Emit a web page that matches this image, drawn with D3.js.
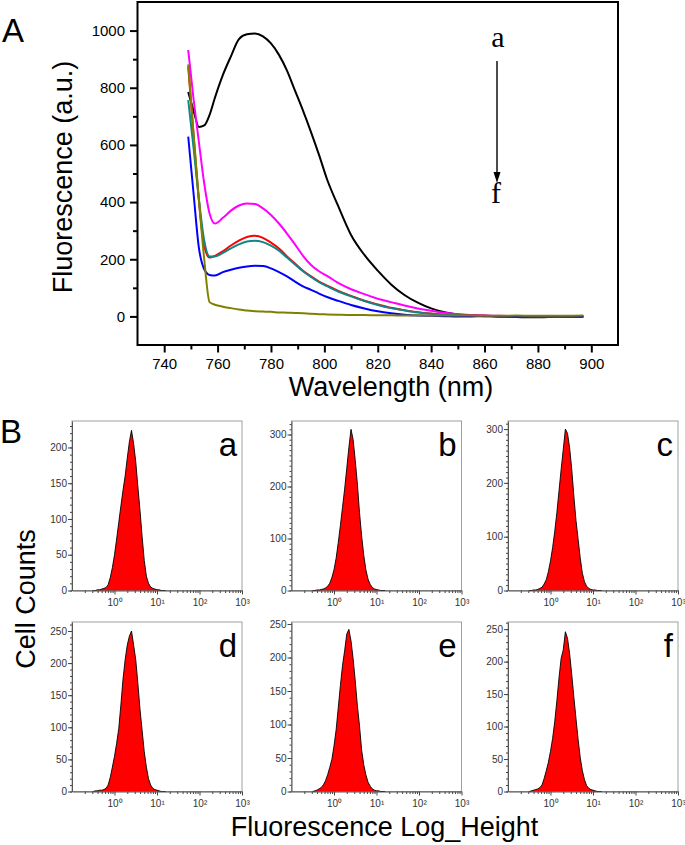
<!DOCTYPE html>
<html>
<head>
<meta charset="utf-8">
<script src="https://cdn.jsdelivr.net/npm/d3@7"></script>
<style>
  body { margin: 0; background: #fff; }
  svg { display: block; font-family: "Liberation Sans", Arial, sans-serif; }
</style>
</head>
<body>
<svg id="fig" width="685" height="845"></svg>
<script>
// ---- data, panel A (emission spectra, a -> f)
const wavelengths = [749, 751, 753, 755, 757, 759, 762, 765, 768, 771, 774, 777, 780, 783, 786, 789, 792, 795, 798, 801,
  805, 810, 815, 820, 825, 830, 835, 840, 845, 850, 855, 860, 866, 872, 878, 884, 890, 897];
const spectrumA = [785, 720, 663, 668, 705, 765, 845, 910, 970, 987, 990, 980, 955, 915, 860, 790, 720, 645, 565, 480,
  390, 285, 215, 160, 112, 75, 48, 28, 15, 7, 4, 2, 0, -2, -3, -2, 0, -2];
const spectrumB = [932, 760, 610, 465, 360, 325, 345, 370, 388, 395, 393, 378, 355, 325, 290, 252, 212, 180, 158, 142,
  118, 95, 78, 62, 50, 38, 28, 20, 13, 8, 5, 3, 2, 0, 0, 1, 0, 0];
const spectrumC = [875, 635, 405, 245, 206, 212, 228, 248, 265, 278, 282, 275, 258, 238, 210, 185, 160, 140, 122, 108,
  90, 72, 55, 42, 30, 22, 15, 10, 6, 4, 3, 2, 1, 0, 1, 0, 0, 1];
const spectrumD = [757, 590, 410, 265, 210, 210, 222, 238, 252, 262, 265, 260, 248, 230, 206, 182, 158, 138, 120, 106,
  88, 70, 54, 40, 29, 21, 14, 9, 6, 4, 2, 1, 0, 1, 0, 0, 1, 0];
const spectrumE = [629, 430, 240, 165, 145, 143, 155, 163, 170, 175, 177, 176, 168, 155, 140, 122, 105, 93, 80, 68,
  55, 40, 28, 18, 11, 6, 3, 2, 1, 0, 0, 1, 0, 0, 0, 1, 0, 0];
const spectrumF = [882, 640, 410, 200, 50, 41, 34, 29, 24, 21, 18, 17, 16, 14, 13, 12, 11, 9, 8, 7,
  6, 5, 5, 4, 4, 3, 4, 3, 3, 3, 3, 2, 2, 3, 2, 2, 2, 3];
const spectra = [spectrumA, spectrumB, spectrumC, spectrumD, spectrumE, spectrumF];
const spectraColors = ["#000000", "#ff00ff", "#ff0000", "#138585", "#0000ff", "#808000"];

const yTicksA = [0, 200, 400, 600, 800, 1000];
const yMinorA = [100, 300, 500, 700, 900];
const xTicksA = [740, 760, 780, 800, 820, 840, 860, 880, 900];
const xMinorA = [750, 770, 790, 810, 830, 850, 870, 890];

// ---- data, panel B (flow cytometry histograms a -> f)
const histLog = [-0.5, -0.45, -0.4, -0.35, -0.3, -0.25, -0.2, -0.15, -0.1, -0.05, 0, 0.05, 0.1, 0.15, 0.2, 0.25, 0.3,
  0.35, 0.4, 0.45, 0.5, 0.55, 0.6, 0.65, 0.7, 0.75, 0.8, 0.85, 0.9, 0.95, 1.0, 1.05, 1.1, 1.15, 1.2];
const histA = [0, 0, 1, 1, 2, 3, 4, 8, 18, 32, 50, 72, 95, 118, 140, 160, 185, 208, 224, 205, 180, 145, 112, 75, 42, 20,
  10, 5, 3, 2, 1, 1, 0, 0, 0];
const histB = [0, 0, 1, 1, 2, 3, 5, 8, 14, 25, 40, 62, 92, 125, 160, 195, 235, 275, 310, 290, 250, 205, 150, 105, 68, 40,
  22, 12, 6, 3, 2, 1, 0, 0, 0];
const histC = [0, 0, 1, 1, 2, 4, 6, 12, 20, 35, 55, 80, 110, 145, 185, 225, 262, 300, 292, 265, 225, 175, 130, 95, 60, 32,
  16, 8, 4, 2, 1, 1, 0, 0, 0];
const histD = [0, 1, 1, 2, 2, 3, 5, 10, 22, 38, 55, 75, 98, 135, 175, 205, 228, 242, 250, 228, 205, 168, 128, 95, 62, 38,
  20, 10, 5, 3, 2, 1, 0, 0, 0];
const histE = [0, 1, 2, 4, 6, 10, 16, 25, 36, 48, 68, 92, 125, 158, 188, 210, 235, 242, 225, 198, 165, 128, 98, 62, 40, 25,
  14, 8, 4, 2, 1, 1, 0, 0, 0];
const histF = [0, 1, 2, 3, 4, 6, 10, 20, 32, 45, 62, 82, 108, 140, 175, 205, 218, 246, 236, 212, 180, 145, 112, 80, 52, 32,
  18, 9, 5, 3, 2, 1, 0, 0, 0];
const histograms = [histA, histB, histC, histD, histE, histF];
const histYMax = [237, 326, 315, 264, 253, 261];
const histYStep = [50, 100, 100, 50, 50, 50];
const histNames = ["a", "b", "c", "d", "e", "f"];
const logTicks = [1, 10, 100, 1000];
const logTickLabels = ["10\u2070", "10\u00b9", "10\u00b2", "10\u00b3"];

const svg = d3.select("#fig");

// ================= panel A =================
const xA = d3.scaleLinear().domain([730, 910]).range([137.5, 618]);
const yA = d3.scaleLinear().domain([-100, 1100]).range([345, 2]);

svg.append("defs").append("clipPath").attr("id", "clipA")
  .append("rect").attr("x", 137.5).attr("y", 2).attr("width", 480.5).attr("height", 343);

const line = d3.line()
  .x((d, i) => xA(wavelengths[i]))
  .y((d) => yA(d))
  .curve(d3.curveMonotoneX);

svg.append("g").attr("clip-path", "url(#clipA)")
  .selectAll("path")
  .data(spectra)
  .join("path")
  .attr("d", line)
  .attr("fill", "none")
  .attr("stroke", (d, i) => spectraColors[i])
  .attr("stroke-width", 2);

svg.append("rect")
  .attr("x", 137.5).attr("y", 2).attr("width", 480.5).attr("height", 343)
  .attr("fill", "none").attr("stroke", "#000").attr("stroke-width", 2);

function styleAxis(g, size) {
  g.attr("font-family", null).attr("font-size", null);
  g.select(".domain").remove();
  g.selectAll("line").attr("stroke", "#000").attr("stroke-width", 2);
  g.selectAll("text").attr("font-size", size).attr("fill", "#000");
}

svg.append("g").attr("transform", "translate(137.5,0)")
  .call(d3.axisLeft(yA).tickValues(yTicksA).tickSize(7.5).tickPadding(5).tickFormat(d3.format("d")))
  .call((g) => styleAxis(g, 15));
svg.append("g").attr("transform", "translate(137.5,0)")
  .call(d3.axisLeft(yA).tickValues(yMinorA).tickSize(4.5).tickFormat(""))
  .call((g) => styleAxis(g, 15));
svg.append("g").attr("transform", "translate(0,345)")
  .call(d3.axisBottom(xA).tickValues(xTicksA).tickSize(7.5).tickPadding(6).tickFormat(d3.format("d")))
  .call((g) => styleAxis(g, 15));
svg.append("g").attr("transform", "translate(0,345)")
  .call(d3.axisBottom(xA).tickValues(xMinorA).tickSize(4.5).tickFormat(""))
  .call((g) => styleAxis(g, 15));

// a -> f arrow
svg.append("line").attr("x1", 497).attr("y1", 61).attr("x2", 497).attr("y2", 174)
  .attr("stroke", "#000").attr("stroke-width", 1.4);
svg.append("path").attr("d", "M493.5,172 L500.5,172 L497,183 Z").attr("fill", "#000");
svg.append("text").attr("x", 498).attr("y", 47).attr("text-anchor", "middle")
  .attr("font-family", "'Liberation Serif', 'Times New Roman', serif").attr("font-size", 30).text("a");
svg.append("text").attr("x", 496).attr("y", 203).attr("text-anchor", "middle")
  .attr("font-family", "'Liberation Serif', 'Times New Roman', serif").attr("font-size", 30).text("f");

svg.append("text").attr("x", 2).attr("y", 42).attr("font-size", 33).text("A");
svg.append("text")
  .attr("transform", "translate(72,177) rotate(-90)")
  .attr("text-anchor", "middle").attr("font-size", 27).text("Fluorescence (a.u.)");
svg.append("text").attr("x", 391).attr("y", 396).attr("text-anchor", "middle")
  .attr("font-size", 27).text("Wavelength (nm)");

// ================= panel B =================
const panelLeft = [72, 291.5, 508];
const panelTop = [421, 622];
const pw = 170, ph = 169.5;

const minorLog = [];
[0.1, 1, 10, 100].forEach((dec) => {
  for (let m = 2; m <= 9; m++) minorLog.push(dec * m);
});

histograms.forEach((counts, k) => {
  const x0 = panelLeft[k % 3];
  const y0 = panelTop[Math.floor(k / 3)];
  const x = d3.scaleLog().domain([0.1, 1000]).range([x0, x0 + pw]);
  const y = d3.scaleLinear().domain([0, histYMax[k]]).range([y0 + ph, y0]);
  const g = svg.append("g");

  g.append("rect").attr("x", x0).attr("y", y0).attr("width", pw).attr("height", ph)
    .attr("fill", "none").attr("stroke", "#a0a0a0").attr("stroke-width", 1);

  const area = d3.area()
    .x((d, i) => x(Math.pow(10, histLog[i])))
    .y0(y(0))
    .y1((d) => y(d));
  const outline = d3.line()
    .x((d, i) => x(Math.pow(10, histLog[i])))
    .y((d) => y(d));
  g.append("path").attr("d", area(counts)).attr("fill", "#ff0000");
  g.append("path").attr("d", outline(counts)).attr("fill", "none")
    .attr("stroke", "#000").attr("stroke-width", 0.9);

  const tickFont = (sel) => {
    sel.attr("font-family", null).attr("font-size", null);
    sel.selectAll("line").attr("stroke", "#444");
    sel.selectAll("text").attr("font-size", 10).attr("fill", "#333")
      .attr("font-family", "'Liberation Sans Narrow', 'Arial Narrow', 'Liberation Sans', sans-serif");
  };

  g.append("g").attr("transform", `translate(${x0},0)`)
    .call(d3.axisLeft(y).tickValues(d3.range(0, histYMax[k], 10)).tickSize(2).tickFormat(""))
    .call((a) => { a.select(".domain").remove(); tickFont(a); });
  g.append("g").attr("transform", `translate(${x0},0)`)
    .call(d3.axisLeft(y).tickValues(d3.range(0, histYMax[k], histYStep[k])).tickSize(4).tickPadding(1).tickSizeOuter(0))
    .call((a) => { a.select(".domain").attr("stroke", "#555"); tickFont(a); });

  g.append("g").attr("transform", `translate(0,${y0 + ph})`)
    .call(d3.axisBottom(x).tickValues(minorLog).tickSize(2.5).tickFormat(""))
    .call((a) => { a.select(".domain").remove(); tickFont(a); });
  g.append("g").attr("transform", `translate(0,${y0 + ph})`)
    .call(d3.axisBottom(x).tickValues(logTicks).tickSize(4).tickPadding(4).tickSizeOuter(0)
      .tickFormat((d, i) => logTickLabels[i]))
    .call((a) => { a.select(".domain").attr("stroke", "#555"); tickFont(a); });

  g.append("text").attr("x", x0 + pw - 5).attr("y", y0 + 35).attr("text-anchor", "end")
    .attr("font-size", 33).text(histNames[k]);
});

svg.append("text").attr("x", 0).attr("y", 443).attr("font-size", 33).text("B");
svg.append("text")
  .attr("transform", "translate(35,599) rotate(-90)")
  .attr("text-anchor", "middle").attr("font-size", 27).text("Cell Counts");
svg.append("text").attr("x", 384.5).attr("y", 836).attr("text-anchor", "middle")
  .attr("font-size", 27).text("Fluorescence Log_Height");
</script>
</body>
</html>
